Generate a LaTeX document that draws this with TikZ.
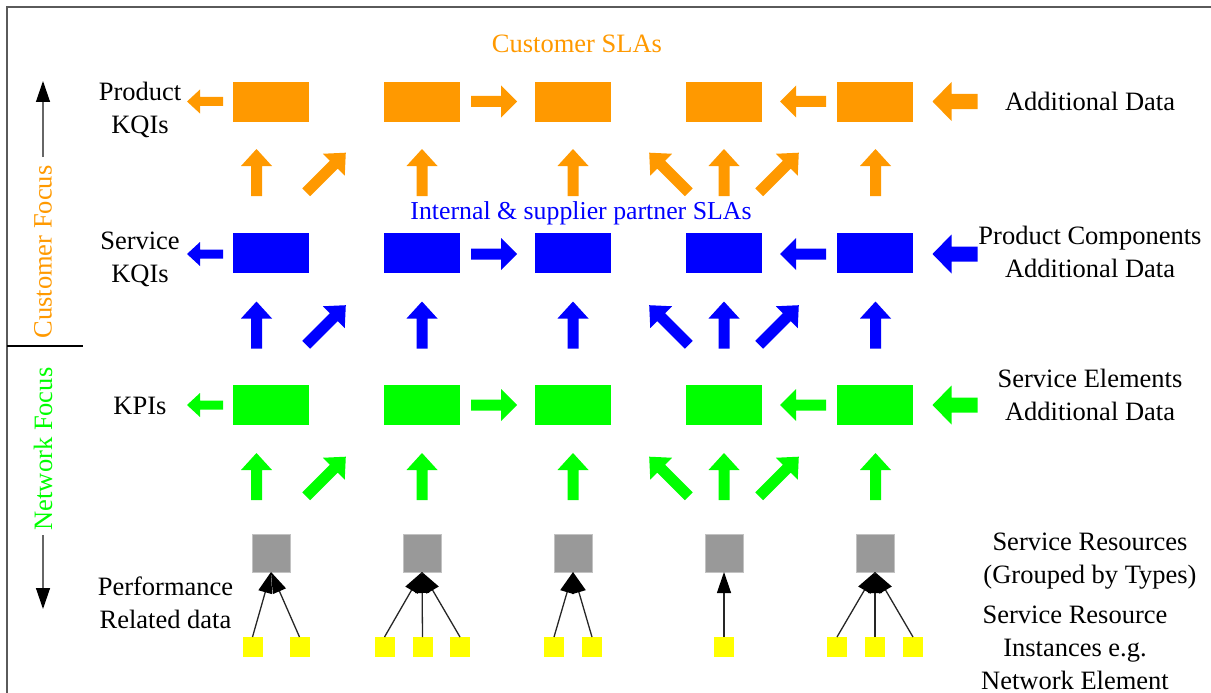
\documentclass[tikz,border=0pt]{standalone}
\usepackage{fontspec}
\setmainfont{Liberation Serif}
\usetikzlibrary{arrows.meta}
\definecolor{cOrange}{RGB}{255,153,0}
\definecolor{cBlue}{RGB}{0,0,255}
\definecolor{cGreen}{RGB}{0,255,0}
\definecolor{cGray}{RGB}{153,153,153}
\definecolor{cYellow}{RGB}{255,255,0}
\definecolor{cFrame}{RGB}{90,90,90}
% block arrow: color, cx, cy, angle, L, w, W, h
\newcommand\barrow[8]{\fill[#1,shift={(#2,#3)},rotate=#4]
  (-#5/2,-#6/2) -- (#5/2-#8,-#6/2) -- (#5/2-#8,-#7/2) -- (#5/2,0) --
  (#5/2-#8,#7/2) -- (#5/2-#8,#6/2) -- (-#5/2,#6/2) -- cycle;}
\newcommand\smallL[3]{\barrow{#1}{#2}{#3}{180}{36}{9}{24}{13}}
\newcommand\midH[4]{\barrow{#1}{#2}{#3}{#4}{46}{11}{32}{16}}
\newcommand\bigL[3]{\barrow{#1}{#2}{#3}{180}{45}{15}{39}{19}}
\newcommand\upA[3]{\barrow{#1}{#2}{#3}{90}{47}{11}{31}{17}}
\newcommand\diagA[4]{\barrow{#1}{#2}{#3}{#4}{56}{11}{31}{17}}
\newcommand\rowH[2]{% color, y
  \smallL{#1}{205}{#2}\midH{#1}{494}{#2}{0}\midH{#1}{803}{#2}{180}\bigL{#1}{955}{#2}}
\newcommand\rowV[2]{% color, y
  \upA{#1}{256.5}{#2}\diagA{#1}{326}{#2}{45}\upA{#1}{422}{#2}\upA{#1}{573}{#2}
  \diagA{#1}{669}{#2}{135}\upA{#1}{724}{#2}\diagA{#1}{779}{#2}{45}\upA{#1}{875.5}{#2}}
\tikzset{
  box/.style={minimum width=76pt,minimum height=40pt,inner sep=0pt,outer sep=0pt,draw=none},
  res/.style={fill=cGray,draw=cGray!60,line width=1pt,minimum size=38pt,inner sep=0pt,outer sep=0pt},
  inst/.style={fill=cYellow,minimum size=20pt,inner sep=0pt,outer sep=0pt},
  lbl/.style={align=center,inner sep=0pt,font=\fontsize{26.5}{33}\selectfont},
  conn/.style={line width=1.3pt,black!85,-{Triangle[length=21pt,width=14pt,color=black]}},
  axis/.style={line width=1.3pt,black!60,-{Triangle[length=21pt,width=14pt,color=black]}}
}
\begin{document}
\begin{tikzpicture}[x=1pt,y=-1pt]
\useasboundingbox (0,0) rectangle (1211,693);
% frame
\draw[cFrame,line width=1.3pt] (7,693) -- (7,7) -- (1211,7);
\draw[black,line width=1.3pt] (7,346) -- (83,346);
% rectangles
\foreach \c/\x in {1/271,2/422,3/573,4/724,5/875}{
  \node[box,fill=cOrange] (o\c) at (\x,102) {};
  \node[box,fill=cBlue] (b\c) at (\x,253) {};
  \node[box,fill=cGreen] (gr\c) at (\x,405) {};
  \node[res] (g\c) at (\x,553) {};
}
% block arrows
\rowH{cOrange}{101.5}
\rowH{cBlue}{254}
\rowH{cGreen}{405}
\rowV{cOrange}{172.5}
\rowV{cBlue}{325}
\rowV{cGreen}{476.5}
% instances
\node[inst] (y11) at (252.5,647) {};
\node[inst] (y12) at (299.5,647) {};
\node[inst] (y21) at (384.5,647) {};
\node[inst] (y22) at (422.5,647) {};
\node[inst] (y23) at (460,647) {};
\node[inst] (y31) at (554,647) {};
\node[inst] (y32) at (592,647) {};
\node[inst] (y41) at (724,647) {};
\node[inst] (y51) at (837,647) {};
\node[inst] (y52) at (875,647) {};
\node[inst] (y53) at (913,647) {};
\foreach \y/\g in {y11/g1,y12/g1,y21/g2,y22/g2,y23/g2,y31/g3,y32/g3,y41/g4,y51/g5,y52/g5,y53/g5}
  \draw[conn] (\y.north) -- (\g.south);
% labels
\node[lbl,text=cOrange] (tcs) at (577,44) {Customer SLAs};
\node[lbl,text=cBlue,font=\fontsize{25.8}{33}\selectfont] (tis) at (581,213) {Internal \& supplier partner SLAs};
\node[lbl] (lpk) at (140,110) {Product\\KQIs};
\node[lbl] (lsk) at (140,259.5) {Service\\KQIs};
\node[lbl] (lkp) at (140,406) {KPIs};
\node[lbl] (lpr) at (165.5,603) {Performance\\Related data};
\node[lbl] (rad) at (1090,101) {Additional Data};
\node[lbl] (rpc) at (1090,251.5) {Product Components\\Additional Data};
\node[lbl] (rse) at (1090,394.5) {Service Elements\\Additional Data};
\node[lbl] (rsr) at (1090,561.5) {Service Resources\\(Grouped by Types)};
\node[lbl] (rsi) at (1075,648) {Service Resource\\Instances e.g.\\Network Element};
% focus axis
\node[lbl,text=cOrange,rotate=90] (cf) at (43,252) {Customer Focus};
\node[lbl,text=cGreen,rotate=90] (nf) at (43,449) {Network Focus};
\coordinate (cfs) at (43,157);
\coordinate (cfe) at (43,81);
\coordinate (nfs) at (43,535);
\coordinate (nfe) at (43,609);
\draw[axis] (cfs) -- (cfe);
\draw[axis] (nfs) -- (nfe);
\end{tikzpicture}
\end{document}
